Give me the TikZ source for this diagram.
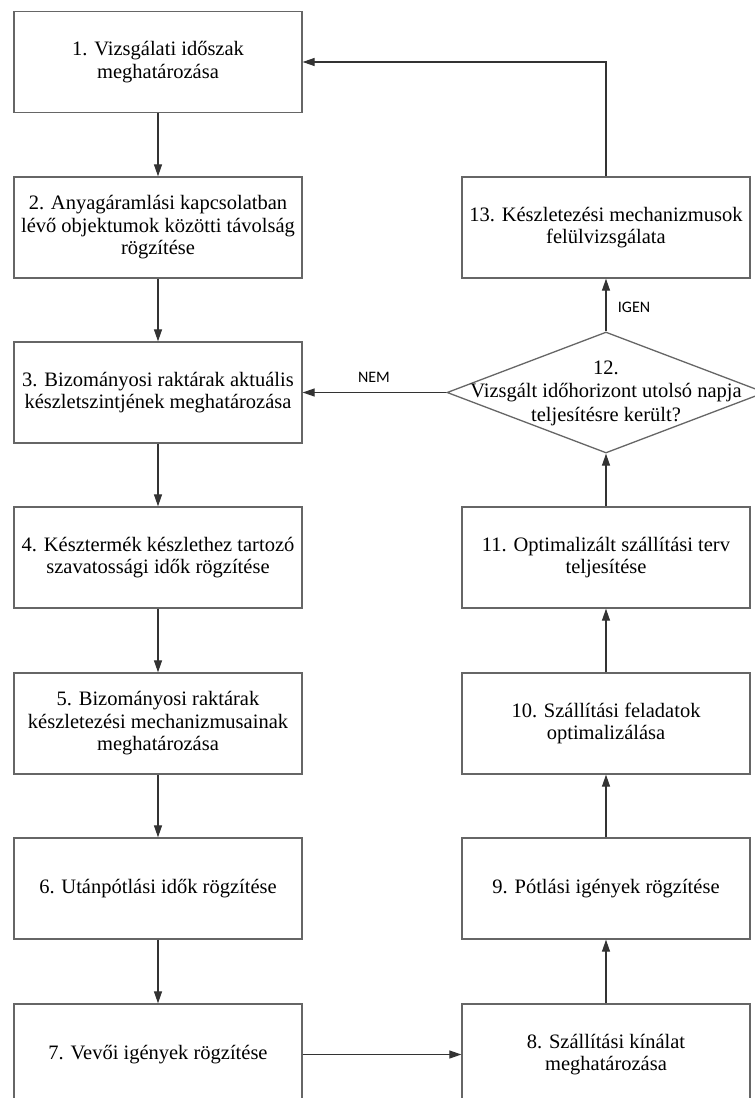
\documentclass[tikz,border=0pt]{standalone}
\usepackage{fontspec}
\setmainfont{Liberation Serif}
\newfontfamily\labelfont{Carlito}
\usetikzlibrary{arrows.meta,shapes.geometric}
\begin{document}
\begin{tikzpicture}[x=1pt,y=-1pt,
  stepbox/.style={draw=black!60, line width=1.3pt, minimum width=288pt,
    minimum height=101pt, inner sep=0pt, align=center,
    font=\fontsize{20.5}{22.5}\selectfont},
  decision/.style={draw=black!60, line width=1.3pt, diamond,
    minimum width=318pt, minimum height=121pt, inner sep=0pt},
  decisiontext/.style={align=center, inner sep=0pt,
    font=\fontsize{20.5}{23.5}\selectfont},
  flow/.style={draw=black!80, line width=1.2pt,
    -{Triangle[length=12pt,width=8pt]}},
  answer/.style={font=\labelfont\fontsize{16}{18}\selectfont, inner sep=0pt}]
\useasboundingbox (0,0) rectangle (755,1098);
\fill[white] (0,0) rectangle (755,1098);

% left column
\node[stepbox] (n1) at (158,62)    {1. Vizsgálati időszak\\meghatározása};
\node[stepbox] (n2) at (158,227.5) {2. Anyagáramlási kapcsolatban\\lévő objektumok közötti távolság\\rögzítése};
\node[stepbox] (n3) at (158,392.5) {3. Bizományosi raktárak aktuális\\készletszintjének meghatározása};
\node[stepbox] (n4) at (158,557.5) {4. Késztermék készlethez tartozó\\szavatossági idők rögzítése};
\node[stepbox] (n5) at (158,723.5) {5. Bizományosi raktárak\\készletezési mechanizmusainak\\meghatározása};
\node[stepbox] (n6) at (158,888.5) {6. Utánpótlási idők rögzítése};
\node[stepbox] (n7) at (158,1054.5) {7. Vevői igények rögzítése};

% right column
\node[stepbox] (n8)  at (606,1054.5) {8. Szállítási kínálat\\meghatározása};
\node[stepbox] (n9)  at (606,888.5)  {9. Pótlási igények rögzítése};
\node[stepbox] (n10) at (606,723.5)  {10. Szállítási feladatok\\optimalizálása};
\node[stepbox] (n11) at (606,557.5)  {11. Optimalizált szállítási terv\\teljesítése};
\node[decision] (d12) at (606,392.5) {};
\node[decisiontext] (t12) at (606,393) {12.\\Vizsgált időhorizont utolsó napja\\teljesítésre került?};
\node[stepbox] (n13) at (606,227.5)  {13. Készletezési mechanizmusok\\felülvizsgálata};

% connectors
\draw[flow] (n1) -- (n2);
\draw[flow] (n2) -- (n3);
\draw[flow] (n3) -- (n4);
\draw[flow] (n4) -- (n5);
\draw[flow] (n5) -- (n6);
\draw[flow] (n6) -- (n7);
\draw[flow] (n7) -- (n8);
\draw[flow] (n8) -- (n9);
\draw[flow] (n9) -- (n10);
\draw[flow] (n10) -- (n11);
\draw[flow] (n11) -- (d12.south);
\draw[flow] (d12.north) -- (n13);
\draw[flow] (d12.west) -- (n3.east);
\draw[flow] (n13.north) |- (n1.east);

% branch labels
\node[answer] (nem) at (374,377) {NEM};
\node[answer] (igen) at (634,307.5) {IGEN};
\end{tikzpicture}
\end{document}
